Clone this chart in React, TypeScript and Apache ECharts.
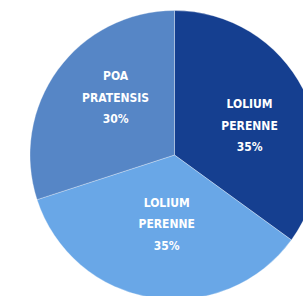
import React, { useEffect, useRef } from "react";
import * as echarts from "echarts";

const categories = ["LOLIUM PERENNE", "LOLIUM PERENNE", "POA PRATENSIS"];
const values = [35, 35, 30];
const colors = ["#153f90", "#69a7e7", "#5686c6"];
const labelOffsets: [number, number][] = [
  [8, 5],
  [4, -5],
  [2, -13],
];

export default function App() {
  const ref = useRef<HTMLDivElement>(null);
  useEffect(() => {
    if (!ref.current) return;
    const chart = echarts.init(ref.current, undefined, { renderer: "svg" });
    chart.setOption({
      animation: false,
      series: [
        {
          type: "pie",
          center: [174.5, 155],
          radius: 144.5,
          startAngle: 90,
          clockwise: true,
          avoidLabelOverlap: false,
          itemStyle: { borderColor: "rgba(255,255,255,0.5)", borderWidth: 0.6 },
          label: {
            show: true,
            position: "inside",
            color: "#ffffff",
            fontFamily: "'Liberation Sans Narrow', 'DejaVu Sans Condensed', sans-serif",
            fontWeight: "bold",
            fontSize: 12,
            lineHeight: 21.5,
            align: "center",
            formatter: (p: any) => p.name.split(" ").join("\n") + "\n" + p.value + "%",
          },
          labelLine: { show: false },
          data: categories.map((name, i) => ({
            name,
            value: values[i],
            itemStyle: { color: colors[i] },
            label: { offset: labelOffsets[i] },
          })),
        },
      ],
    });
    return () => chart.dispose();
  }, []);
  return (
    <div
      ref={ref}
      style={{ position: "fixed", left: 0, top: 0, width: 303, height: 296, background: "#ffffff" }}
    />
  );
}
